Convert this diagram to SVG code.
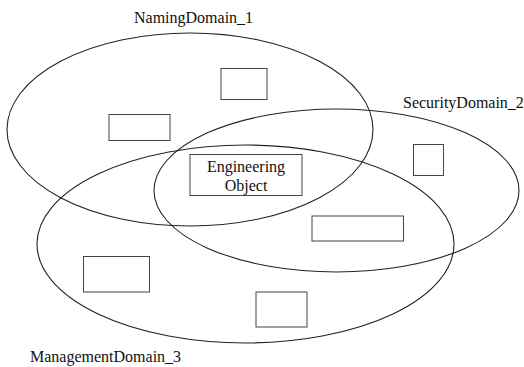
<svg xmlns="http://www.w3.org/2000/svg" width="524" height="367" viewBox="0 0 524 367">
  <style>
    .domain { fill: none; stroke: #222; stroke-width: 1.1; }
    .obj { fill: none; stroke: #444; stroke-width: 1; }
    text { font-family: 'Liberation Serif', serif; font-size: 16px; fill: #111; }
    .olbl { text-anchor: middle; }
  </style>
  <rect x="0" y="0" width="524" height="367" fill="#fff"/>
  <g id="domains">
    <g id="naming-domain">
      <ellipse class="domain" cx="190" cy="129.5" rx="183" ry="96.5"/>
      <text x="134" y="23" font-family="Liberation Serif">NamingDomain_1</text>
    </g>
    <g id="security-domain">
      <ellipse class="domain" cx="336.5" cy="190.5" rx="182.5" ry="81.5"/>
      <text x="403" y="108" font-family="Liberation Serif">SecurityDomain_2</text>
    </g>
    <g id="management-domain">
      <ellipse class="domain" cx="245.5" cy="244" rx="208.5" ry="99"/>
      <text x="30" y="362" font-family="Liberation Serif">ManagementDomain_3</text>
    </g>
  </g>
  <g id="objects">
    <g id="obj-1"><rect class="obj" x="221" y="68.5" width="46" height="31"/></g>
    <g id="obj-2"><rect class="obj" x="109" y="114.5" width="61" height="26"/></g>
    <g id="engineering-object">
      <rect class="obj" x="190" y="154.5" width="112" height="41"/>
      <text class="olbl" x="246" y="172" font-family="Liberation Serif">Engineering</text>
      <text class="olbl" x="246" y="191" font-family="Liberation Serif">Object</text>
    </g>
    <g id="obj-3"><rect class="obj" x="413.5" y="144.5" width="30" height="31"/></g>
    <g id="obj-4"><rect class="obj" x="312" y="216" width="91.5" height="25"/></g>
    <g id="obj-5"><rect class="obj" x="83.5" y="256.5" width="66" height="35.5"/></g>
    <g id="obj-6"><rect class="obj" x="256" y="292" width="51" height="35"/></g>
  </g>
  <g id="connectors"/>
</svg>
